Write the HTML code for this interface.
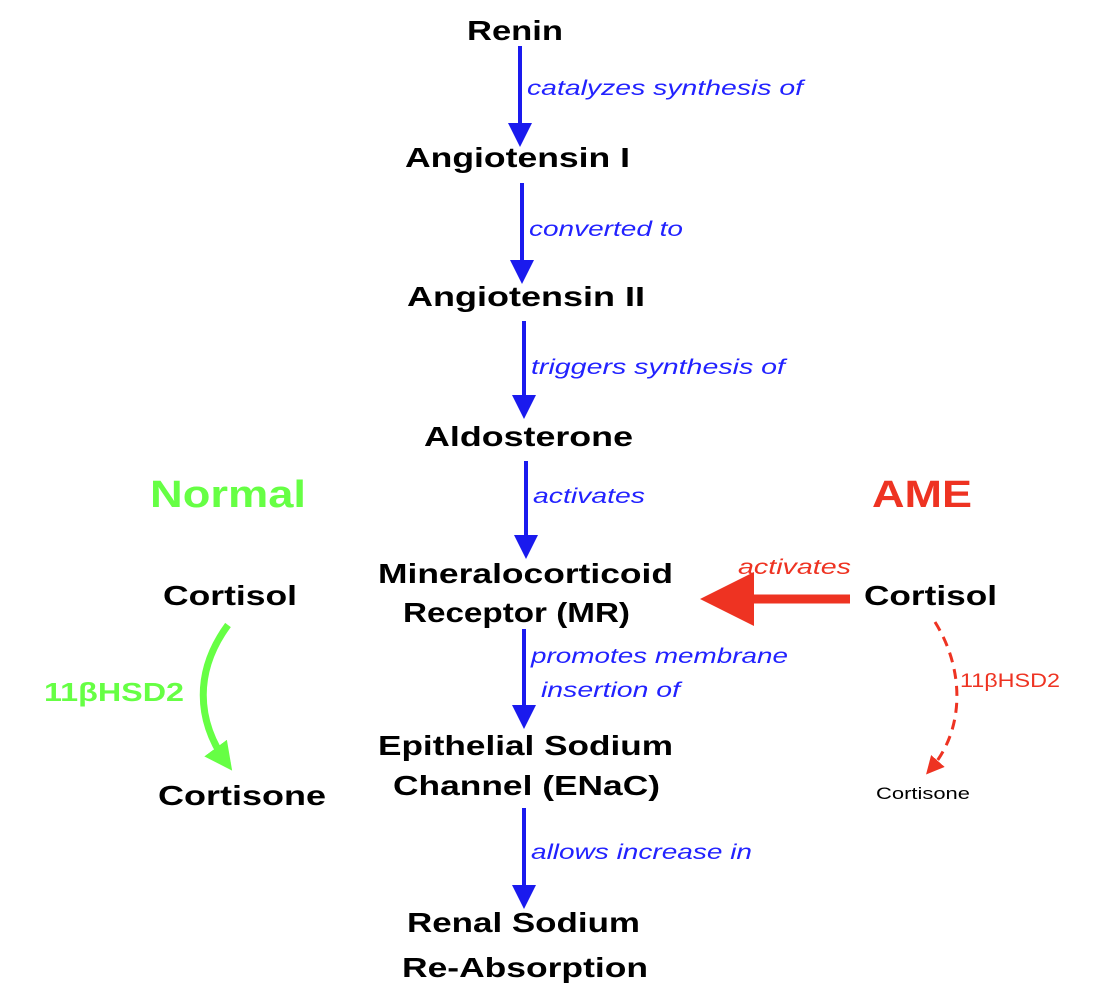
<!DOCTYPE html>
<html><head><meta charset="utf-8"><style>
html,body{margin:0;padding:0;background:#fff;}
svg{display:block}
.b{font-family:"Liberation Sans",sans-serif;font-weight:bold;font-size:28px;fill:#000}
.l{font-family:"Liberation Sans",sans-serif;font-style:italic;font-size:21px;fill:#2222ff}
</style></head><body>
<svg width="1114" height="1006" viewBox="0 0 1114 1006">
<defs>
<marker id="ab" markerWidth="6" markerHeight="6" refX="5" refY="3" orient="auto" markerUnits="strokeWidth"><path d="M0,0 L6,3 L0,6 z" fill="#1a1aee"/></marker>
<marker id="ag" markerWidth="4" markerHeight="4" refX="3" refY="2" orient="auto" markerUnits="strokeWidth"><path d="M0,0 L4,2 L0,4 z" fill="#66ff44"/></marker>
<marker id="ar" markerWidth="6" markerHeight="6" refX="4" refY="3" orient="auto" markerUnits="strokeWidth"><path d="M0,0 L6,3 L0,6 z" fill="#ee3322"/></marker>
</defs>
<text class="b" x="467" y="40" textLength="96" lengthAdjust="spacingAndGlyphs">Renin</text>
<line x1="520" y1="46" x2="520" y2="143" stroke="#1a1aee" stroke-width="4" marker-end="url(#ab)"/>
<text class="l" x="527" y="95" textLength="276" lengthAdjust="spacingAndGlyphs">catalyzes synthesis of</text>
<text class="b" x="405" y="167" textLength="225" lengthAdjust="spacingAndGlyphs">Angiotensin I</text>
<line x1="522" y1="183" x2="522" y2="280" stroke="#1a1aee" stroke-width="4" marker-end="url(#ab)"/>
<text class="l" x="529" y="236" textLength="154" lengthAdjust="spacingAndGlyphs">converted to</text>
<text class="b" x="407" y="306" textLength="238" lengthAdjust="spacingAndGlyphs">Angiotensin II</text>
<line x1="524" y1="321" x2="524" y2="415" stroke="#1a1aee" stroke-width="4" marker-end="url(#ab)"/>
<text class="l" x="531" y="374" textLength="254" lengthAdjust="spacingAndGlyphs">triggers synthesis of</text>
<text class="b" x="424" y="446" textLength="209" lengthAdjust="spacingAndGlyphs">Aldosterone</text>
<line x1="526" y1="461" x2="526" y2="555" stroke="#1a1aee" stroke-width="4" marker-end="url(#ab)"/>
<text class="l" x="533" y="503" textLength="112" lengthAdjust="spacingAndGlyphs">activates</text>
<text class="b" x="378" y="583" textLength="295" lengthAdjust="spacingAndGlyphs">Mineralocorticoid</text>
<text class="b" x="403" y="622" textLength="227" lengthAdjust="spacingAndGlyphs">Receptor (MR)</text>
<line x1="524" y1="629" x2="524" y2="725" stroke="#1a1aee" stroke-width="4" marker-end="url(#ab)"/>
<text class="l" x="531" y="663" textLength="257" lengthAdjust="spacingAndGlyphs">promotes membrane</text>
<text class="l" x="541" y="697" textLength="139" lengthAdjust="spacingAndGlyphs">insertion of</text>
<text class="b" x="378" y="755" textLength="295" lengthAdjust="spacingAndGlyphs">Epithelial Sodium</text>
<text class="b" x="393" y="795" textLength="267" lengthAdjust="spacingAndGlyphs">Channel (ENaC)</text>
<line x1="524" y1="808" x2="524" y2="905" stroke="#1a1aee" stroke-width="4" marker-end="url(#ab)"/>
<text class="l" x="531" y="859" textLength="221" lengthAdjust="spacingAndGlyphs">allows increase in</text>
<text class="b" x="407" y="932" textLength="233" lengthAdjust="spacingAndGlyphs">Renal Sodium</text>
<text class="b" x="402" y="977" textLength="246" lengthAdjust="spacingAndGlyphs">Re-Absorption</text>

<text class="b" x="150" y="507" textLength="156" lengthAdjust="spacingAndGlyphs" style="font-size:38px;fill:#66ff44">Normal</text>
<text class="b" x="163" y="605" textLength="134" lengthAdjust="spacingAndGlyphs">Cortisol</text>
<path d="M228,625 C195,670 195,720 228,765" fill="none" stroke="#66ff44" stroke-width="7" marker-end="url(#ag)"/>
<text class="b" x="44" y="701" textLength="140" lengthAdjust="spacingAndGlyphs" style="font-size:26px;fill:#66ff44">11βHSD2</text>
<text class="b" x="158" y="805" textLength="168" lengthAdjust="spacingAndGlyphs">Cortisone</text>

<text class="b" x="872" y="507" textLength="100" lengthAdjust="spacingAndGlyphs" style="font-size:38px;fill:#ee3322">AME</text>
<text class="b" x="864" y="605" textLength="133" lengthAdjust="spacingAndGlyphs">Cortisol</text>
<line x1="850" y1="599" x2="718" y2="599" stroke="#ee3322" stroke-width="9" marker-end="url(#ar)"/>
<text class="l" x="738" y="574" textLength="113" lengthAdjust="spacingAndGlyphs" style="fill:#ee3322">activates</text>
<path d="M935,622 C965,670 965,730 930,770" fill="none" stroke="#ee3322" stroke-width="3" stroke-dasharray="10,7" marker-end="url(#ar)"/>
<text x="960" y="687" textLength="100" lengthAdjust="spacingAndGlyphs" style="font-family:'Liberation Sans',sans-serif;font-size:19px;fill:#ee3322">11βHSD2</text>
<text x="876" y="799" textLength="94" lengthAdjust="spacingAndGlyphs" style="font-family:'Liberation Sans',sans-serif;font-size:17px;fill:#000">Cortisone</text>
</svg>
</body></html>
